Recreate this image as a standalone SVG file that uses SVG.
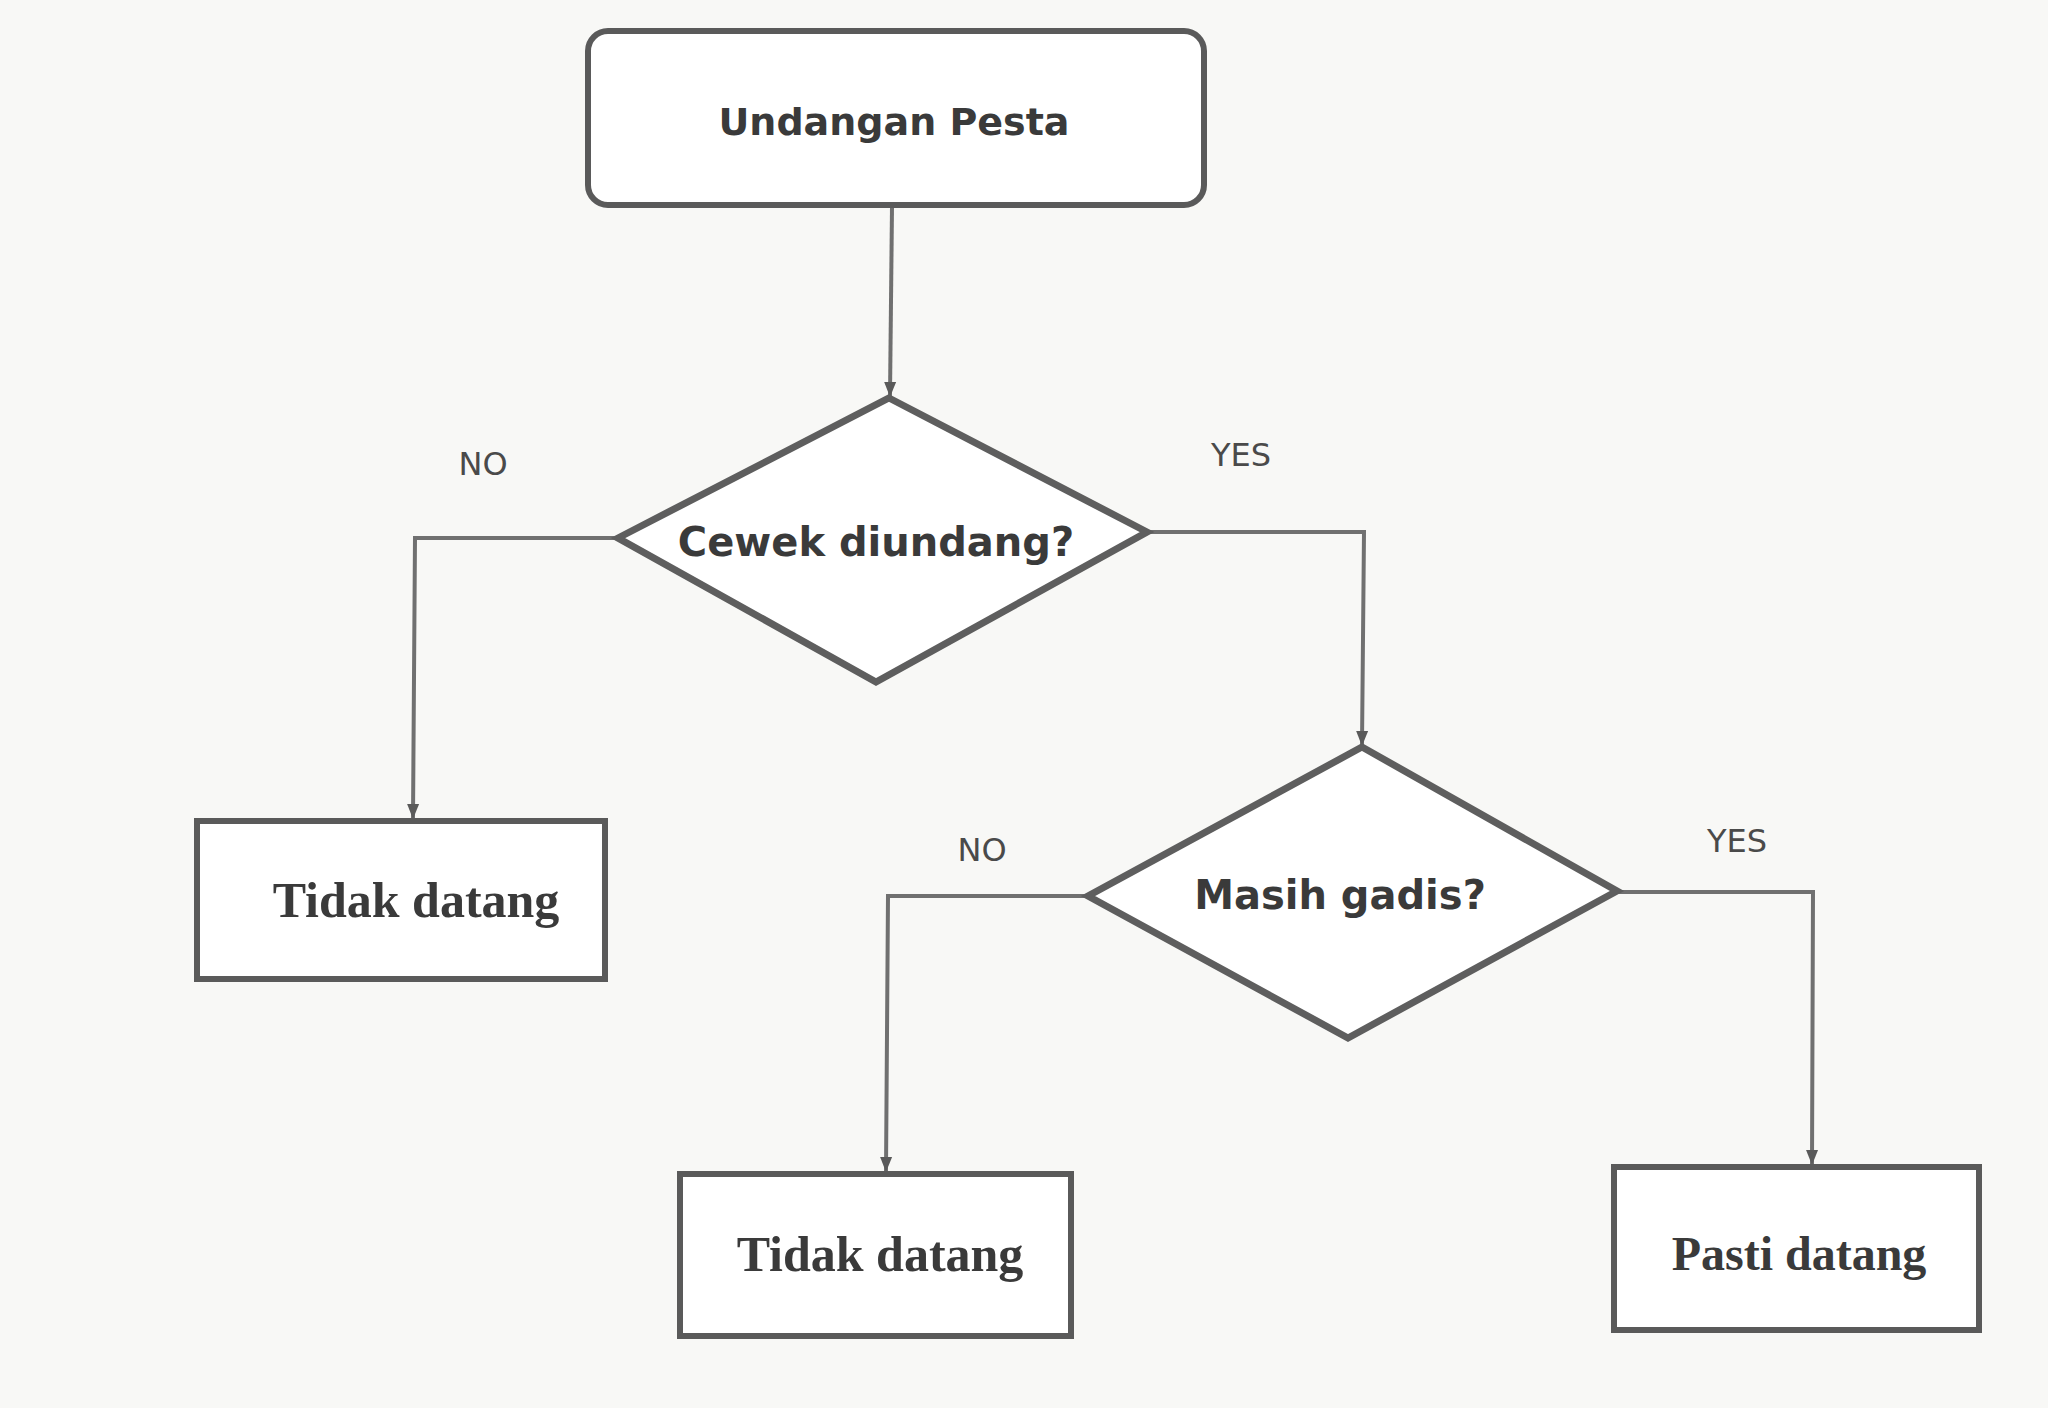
<svg xmlns="http://www.w3.org/2000/svg" width="2048" height="1408" viewBox="0 0 2048 1408">
  <style>
    .box { fill: #ffffff; stroke: #5a5a5a; stroke-width: 6; }
    .dia { fill: #ffffff; stroke: #5e5e5e; stroke-width: 7; stroke-linejoin: miter; }
    .conn { fill: none; stroke: #707070; stroke-width: 4; }
    .t-sans { font-family: "DejaVu Sans", "Liberation Sans", sans-serif; font-weight: bold; fill: #3a3a3a; text-anchor: middle; }
    .t-serif { font-family: "Liberation Serif", "DejaVu Serif", serif; font-weight: bold; fill: #3a3a3a; text-anchor: middle; }
    .lbl { font-family: "DejaVu Sans", "Liberation Sans", sans-serif; fill: #4a4a4a; text-anchor: middle; font-size: 32px; }
  </style>
  <defs>
    <marker id="arr" markerUnits="userSpaceOnUse" markerWidth="16" markerHeight="16" viewBox="0 0 16 16" refX="14" refY="8" orient="auto">
      <path d="M0,2 L15,8 L0,14 z" fill="#5a5a5a"/>
    </marker>
  </defs>
  <rect width="2048" height="1408" fill="#f8f8f6"/>

  <g id="connectors">
    <path class="conn" d="M892,207 L890,396" marker-end="url(#arr)"/>
    <path class="conn" d="M618,538 L415,538 L413,818" marker-end="url(#arr)"/>
    <path class="conn" d="M1147,532 L1364,532 L1362,745" marker-end="url(#arr)"/>
    <path class="conn" d="M1088,896 L888,896 L886,1171" marker-end="url(#arr)"/>
    <path class="conn" d="M1617,892 L1813,892 L1812,1164" marker-end="url(#arr)"/>
  </g>

  <g id="start">
    <rect class="box" x="588" y="31" width="616" height="174" rx="20" ry="20"/>
    <text class="t-sans" x="894" y="135" font-size="38">Undangan Pesta</text>
  </g>

  <g id="decision1">
    <polygon class="dia" points="889,398 1147,532 876,682 618,538"/>
    <text class="t-sans" x="876" y="556" font-size="40">Cewek diundang?</text>
  </g>

  <g id="label-no1"><text class="lbl" x="483" y="475">NO</text></g>
  <g id="label-yes1"><text class="lbl" x="1241" y="466">YES</text></g>

  <g id="end-left">
    <rect class="box" x="197" y="821" width="408" height="158"/>
    <text class="t-serif" x="416" y="917" font-size="50">Tidak datang</text>
  </g>

  <g id="decision2">
    <polygon class="dia" points="1362,747 1617,891 1348,1038 1088,896"/>
    <text class="t-sans" x="1340" y="909" font-size="40">Masih gadis?</text>
  </g>

  <g id="label-no2"><text class="lbl" x="982" y="861">NO</text></g>
  <g id="label-yes2"><text class="lbl" x="1737" y="852">YES</text></g>

  <g id="end-middle">
    <rect class="box" x="680" y="1174" width="391" height="162"/>
    <text class="t-serif" x="880" y="1271" font-size="50">Tidak datang</text>
  </g>

  <g id="end-right">
    <rect class="box" x="1614" y="1167" width="365" height="163"/>
    <text class="t-serif" x="1799" y="1270" font-size="48">Pasti datang</text>
  </g>
</svg>
